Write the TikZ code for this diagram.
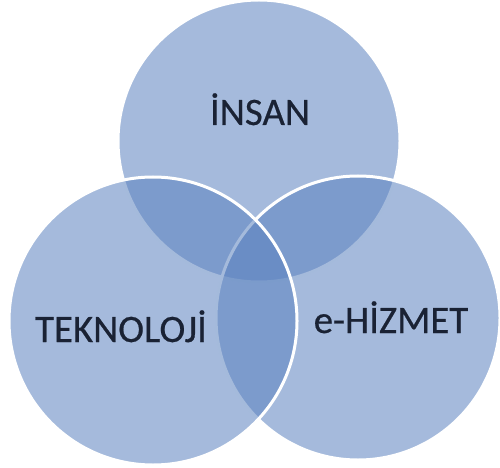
\documentclass[tikz,border=0pt]{standalone}
\usepackage{fontspec}
\setmainfont{Carlito}
\newfontfamily\labelfont{Carlito}[FakeBold=0.5]
\definecolor{setblue}{HTML}{5B82BF}
\definecolor{labelink}{HTML}{1A2234}
\begin{document}
\begin{tikzpicture}[x=1bp,y=-1bp,
  setdisc/.style={fill=setblue,fill opacity=0.55,draw=white,draw opacity=1,line width=3bp},
  setlabel/.style={text=labelink,font=\labelfont\fontsize{39}{44}\selectfont,inner sep=0pt,anchor=base}]
  \useasboundingbox (0,0) rectangle (500,468);
  % three overlapping sets, top one first, left one last
  \path[setdisc] (259,141) circle[radius=141];
  \path[setdisc] (358,318) circle[radius=142];
  \path[setdisc] (153,321) circle[radius=144];
  \node[setlabel] (insan) at (260,125) {İNSAN};
  \node[setlabel] (teknoloji) at (121,342) {TEKNOLOJİ};
  \node[setlabel] (ehizmet) at (391,333) {e-HİZMET};
\end{tikzpicture}
\end{document}
